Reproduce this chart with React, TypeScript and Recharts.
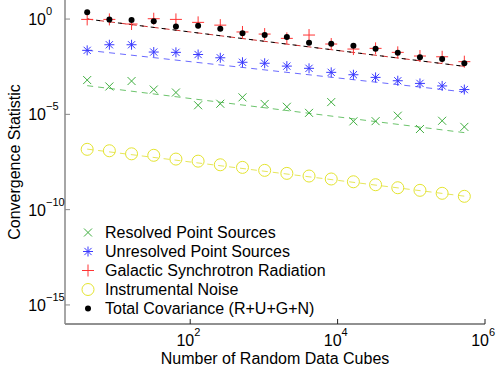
import { Legend, Scatter, ScatterChart, XAxis, YAxis } from "recharts";

const FONT = "'Liberation Sans', Arial, Helvetica, sans-serif";

// number of random data cubes (x)
const cubes = [
  4, 8, 16, 32, 64, 128, 256, 512, 1024, 2048, 4096, 8192, 16384, 32768,
  65536, 131072, 262144, 524288,
];

// convergence statistic per component
const resolved = [
  6.3e-4, 2.9e-4, 5.6e-4, 2.0e-4, 1.4e-4, 3.0e-5, 3.6e-5, 7.8e-5, 3.5e-5,
  2.5e-5, 1.2e-5, 4.4e-5, 4.3e-6, 4.4e-6, 8.5e-6, 1.7e-6, 4.6e-6, 2.2e-6,
];
const unresolved = [
  0.0228, 0.0449, 0.0449, 0.0186, 0.0179, 0.0138, 0.0093, 0.0054, 0.0048,
  0.0034, 0.0026, 0.0016, 0.0012, 8.7e-4, 5.8e-4, 4.2e-4, 3.1e-4, 2.0e-4,
];
const galactic = [
  0.96, 0.96, 0.55, 1.04, 0.96, 0.67, 0.48, 0.21, 0.163, 0.097, 0.145, 0.049,
  0.0267, 0.029, 0.0179, 0.0115, 0.0105, 0.0058,
];
const noise = [
  1.46e-7, 1.23e-7, 8.5e-8, 7.1e-8, 4.5e-8, 3.5e-8, 2.26e-8, 1.65e-8, 1.15e-8,
  8.0e-9, 5.8e-9, 4.06e-9, 2.9e-9, 2.03e-9, 1.41e-9, 1.03e-9, 7.2e-10,
  5.0e-10,
];
const total = [
  2.3, 0.96, 0.89, 0.76, 0.41, 0.44, 0.31, 0.18, 0.145, 0.114, 0.057, 0.05,
  0.04, 0.0277, 0.0171, 0.0098, 0.008, 0.0048,
];

// dashed power-law fits, end values at first and last cube count
const fitTotal = [1.0, 3.3e-3];
const fitUnresolved = [0.023, 1.5e-4];
const fitResolved = [3.2e-4, 1.1e-6];
const fitNoise = [1.5e-7, 5.1e-10];

const xTicks = [100, 10000, 1000000];
const yTicks = [1, 1e-5, 1e-10, 1e-15];

const toPoints = (ys: number[]) => ys.map((y, i) => ({ x: cubes[i], y }));
const toFit = (ys: number[]) => [
  { x: cubes[0], y: ys[0] },
  { x: cubes[cubes.length - 1], y: ys[1] },
];

const GREEN = "#3fae3f";
const BLUE = "#3a3aff";
const RED = "#ff3434";
const YELLOW = "#e4e430";

const markers: Record<string, (cx: number, cy: number) => JSX.Element> = {
  cross: (cx, cy) => (
    <path
      d={`M${cx - 4},${cy - 4}L${cx + 4},${cy + 4}M${cx - 4},${cy + 4}L${cx + 4},${cy - 4}`}
      stroke={GREEN}
      fill="none"
    />
  ),
  star: (cx, cy) => (
    <path
      d={`M${cx},${cy - 5}V${cy + 5}M${cx - 5},${cy}H${cx + 5}M${cx - 3.6},${cy - 3.6}L${cx + 3.6},${cy + 3.6}M${cx - 3.6},${cy + 3.6}L${cx + 3.6},${cy - 3.6}`}
      stroke={BLUE}
      fill="none"
    />
  ),
  plus: (cx, cy) => (
    <path
      d={`M${cx},${cy - 6}V${cy + 6}M${cx - 6},${cy}H${cx + 6}`}
      stroke={RED}
      fill="none"
    />
  ),
  circle: (cx, cy) => (
    <circle cx={cx} cy={cy} r={6} stroke={YELLOW} fill="none" />
  ),
  dot: (cx, cy) => <circle cx={cx} cy={cy} r={3} fill="#000" />,
};

const series = [
  { name: "Resolved Point Sources", data: resolved, marker: "cross" },
  { name: "Unresolved Point Sources", data: unresolved, marker: "star" },
  { name: "Galactic Synchrotron Radiation", data: galactic, marker: "plus" },
  { name: "Instrumental Noise", data: noise, marker: "circle" },
  { name: "Total Covariance (R+U+G+N)", data: total, marker: "dot" },
];

const expText = (v: number) =>
  String(Math.round(Math.log10(v))).replace("-", "\u2212");

const BottomTick = ({ x, y, payload }: any) => (
  <g>
    <line x1={x} x2={x} y1={y} y2={y - 5} stroke="#222" />
    <text x={x + 4} y={y + 22} textAnchor="end" fontSize={16} fontFamily={FONT} fill="#000">
      10
    </text>
    <text x={x + 4} y={y + 12} fontSize={11} fontFamily={FONT} fill="#000">
      {expText(payload.value)}
    </text>
  </g>
);

const TopTick = ({ x, y }: any) => (
  <line x1={x} x2={x} y1={y} y2={y + 5} stroke="#888" />
);

const LeftTick = ({ x, y, payload }: any) => (
  <g>
    <line x1={x} x2={x + 5} y1={y} y2={y} stroke="#888" />
    <text x={x - 19} y={y + 6} textAnchor="end" fontSize={16} fontFamily={FONT} fill="#000">
      10
    </text>
    <text x={x - 19} y={y - 4} fontSize={11} fontFamily={FONT} fill="#000">
      {expText(payload.value)}
    </text>
  </g>
);

const RightTick = ({ x, y }: any) => (
  <line x1={x} x2={x - 5} y1={y} y2={y} stroke="#888" />
);

const LegendBox = () => (
  <div style={{ fontFamily: FONT, fontSize: 16, color: "#000" }}>
    {series.map((s) => (
      <div
        key={s.name}
        style={{ display: "flex", alignItems: "center", height: 19 }}
      >
        <svg width={16} height={19}>
          {markers[s.marker](8, 9.5)}
        </svg>
        <span style={{ marginLeft: 9, whiteSpace: "nowrap" }}>{s.name}</span>
      </div>
    ))}
  </div>
);

const noShape = () => <g />;

export default function App() {
  return (
    <div style={{ position: "absolute", left: 0, top: 0, background: "#fff" }}>
      <ScatterChart
        width={498}
        height={374}
        margin={{ top: 0, right: 13, bottom: 6, left: 5 }}
      >
        <XAxis
          xAxisId="b"
          dataKey="x"
          type="number"
          scale="log"
          domain={[2, 1000000]}
          allowDataOverflow
          ticks={xTicks}
          interval={0}
          height={44}
          tickSize={0}
          tickMargin={0}
          tick={<BottomTick />}
          axisLine={{ stroke: "#222" }}
          label={({ viewBox }: any) => (
            <text
              x={viewBox.x + viewBox.width / 2}
              y={viewBox.y + 40}
              textAnchor="middle"
              fontSize={16}
              fontFamily={FONT}
              fill="#000"
            >
              Number of Random Data Cubes
            </text>
          )}
        />
        <XAxis
          xAxisId="t"
          orientation="top"
          dataKey="x"
          type="number"
          scale="log"
          domain={[2, 1000000]}
          allowDataOverflow
          ticks={xTicks}
          interval={0}
          height={0}
          tickSize={0}
          tickMargin={0}
          tick={<TopTick />}
          axisLine={{ stroke: "#888" }}
        />
        <YAxis
          yAxisId="l"
          dataKey="y"
          type="number"
          scale="log"
          domain={[1e-16, 10]}
          allowDataOverflow
          ticks={yTicks}
          interval={0}
          width={60}
          tickSize={0}
          tickMargin={0}
          tick={<LeftTick />}
          axisLine={{ stroke: "#888", strokeWidth: 1.5 }}
          label={({ viewBox }: any) => {
            const cx = viewBox.x + 15;
            const cy = viewBox.y + viewBox.height / 2;
            return (
              <text
                x={cx}
                y={cy}
                transform={`rotate(-90, ${cx}, ${cy})`}
                textAnchor="middle"
                fontSize={16}
                fontFamily={FONT}
                fill="#000"
              >
                Convergence Statistic
              </text>
            );
          }}
        />
        <YAxis
          yAxisId="r"
          orientation="right"
          dataKey="y"
          type="number"
          scale="log"
          domain={[1e-16, 10]}
          allowDataOverflow
          ticks={yTicks}
          interval={0}
          width={0}
          tickSize={0}
          tickMargin={0}
          tick={<RightTick />}
          axisLine={{ stroke: "#888", strokeWidth: 2 }}
        />

        <Scatter
          xAxisId="b"
          yAxisId="l"
          data={toFit(fitResolved)}
          line={{ stroke: "#6cc46c", strokeDasharray: "6 5" }}
          shape={noShape}
          legendType="none"
          isAnimationActive={false}
        />
        <Scatter
          xAxisId="b"
          yAxisId="l"
          data={toFit(fitUnresolved)}
          line={{ stroke: "#6a6aff", strokeDasharray: "6 5" }}
          shape={noShape}
          legendType="none"
          isAnimationActive={false}
        />
        <Scatter
          xAxisId="b"
          yAxisId="l"
          data={toFit(fitNoise)}
          line={{ stroke: "#e6e65a", strokeDasharray: "6 5" }}
          shape={noShape}
          legendType="none"
          isAnimationActive={false}
        />
        <Scatter
          xAxisId="b"
          yAxisId="l"
          data={toFit(fitTotal)}
          line={{ stroke: "#d03030", strokeDasharray: "6 5" }}
          shape={noShape}
          legendType="none"
          isAnimationActive={false}
        />
        <Scatter
          xAxisId="b"
          yAxisId="l"
          data={toFit(fitTotal)}
          line={{ stroke: "#000", strokeDasharray: "4 7", strokeDashoffset: 2 }}
          shape={noShape}
          legendType="none"
          isAnimationActive={false}
        />

        {series.map((s) => (
          <Scatter
            key={s.name}
            name={s.name}
            xAxisId="b"
            yAxisId="l"
            data={toPoints(s.data)}
            shape={(p: any) => markers[s.marker](p.cx, p.cy)}
            isAnimationActive={false}
          />
        ))}

        <Legend
          layout="vertical"
          align="center"
          verticalAlign="middle"
          content={<LegendBox />}
          wrapperStyle={{ left: 80, top: 223, width: 260 }}
        />
      </ScatterChart>
    </div>
  );
}
